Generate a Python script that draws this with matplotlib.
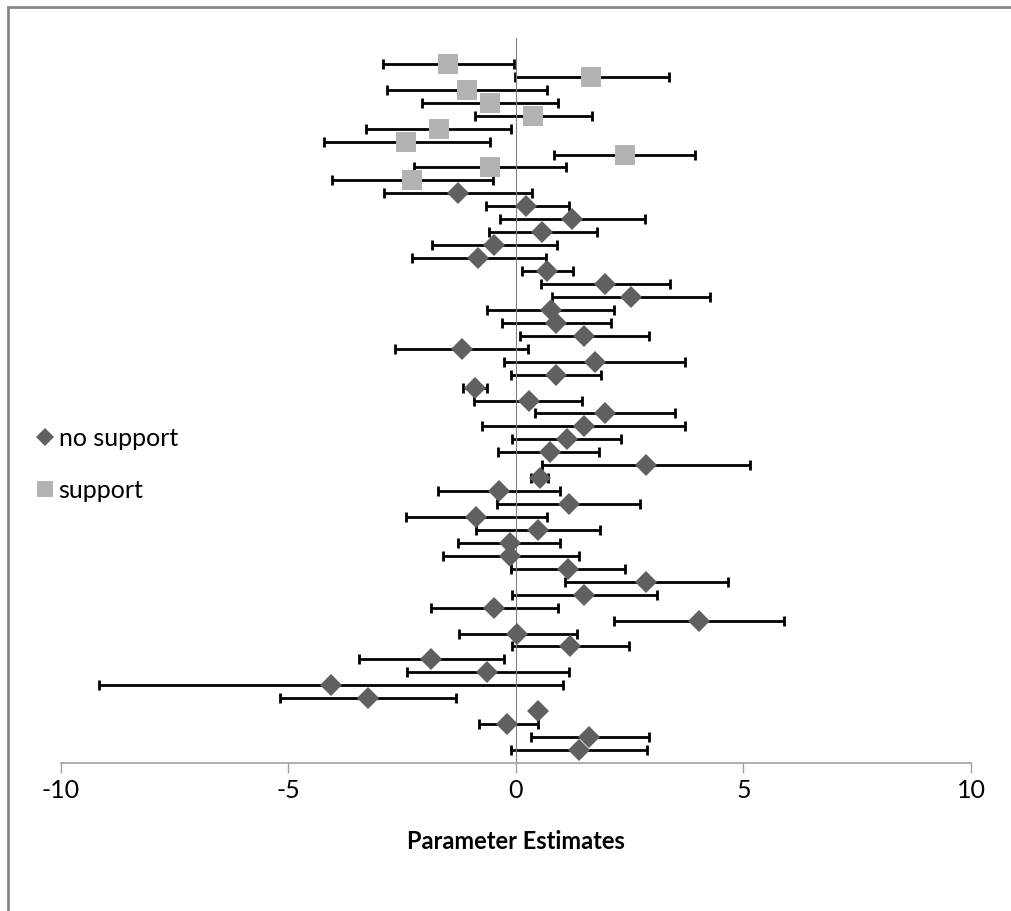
import numpy as np
import matplotlib.pyplot as plt
from matplotlib.lines import Line2D
from matplotlib.patches import Rectangle

plt.rcParams['font.family'] = ['Lato', 'DejaVu Sans']
plt.rcParams['axes.unicode_minus'] = False

# rows listed top to bottom
support_est = [-1.49, 1.65, -1.08, -0.57, 0.38, -1.70, -2.41, 2.39, -0.57, -2.28]
support_lo = [-2.92, -0.02, -2.83, -2.06, -0.91, -3.30, -4.22, 0.84, -2.24, -4.04]
support_hi = [-0.04, 3.36, 0.69, 0.93, 1.68, -0.11, -0.58, 3.94, 1.10, -0.51]

nosupport_est = [-1.27, 0.22, 1.24, 0.57, -0.48, -0.83, 0.68, 1.96, 2.53, 0.77,
                 0.87, 1.50, -1.19, 1.74, 0.87, -0.91, 0.28, 1.96, 1.50, 1.11,
                 0.74, 2.85, 0.52, -0.38, 1.16, -0.88, 0.48, -0.14, -0.13, 1.14,
                 2.85, 1.49, -0.48, 4.03, 0.02, 1.19, -1.87, -0.63, -4.07, -3.26,
                 0.48, -0.19, 1.61, 1.39]
nosupport_lo = [-2.90, -0.66, -0.35, -0.60, -1.85, -2.28, 0.14, 0.56, 0.79, -0.63,
                -0.31, 0.08, -2.67, -0.27, -0.11, -1.17, -0.93, 0.41, -0.74, -0.09,
                -0.39, 0.57, 0.33, -1.71, -0.41, -2.42, -0.88, -1.28, -1.60, -0.11,
                1.08, -0.08, -1.87, 2.15, -1.26, -0.08, -3.45, -2.40, -9.17, -5.18,
                0.48, -0.82, 0.33, -0.10]
nosupport_hi = [0.35, 1.16, 2.83, 1.78, 0.91, 0.66, 1.25, 3.39, 4.26, 2.15,
                2.08, 2.92, 0.27, 3.72, 1.87, -0.64, 1.45, 3.49, 3.72, 2.30,
                1.83, 5.14, 0.71, 0.97, 2.73, 0.69, 1.84, 0.97, 1.38, 2.40,
                4.66, 3.09, 0.93, 5.90, 1.35, 2.49, -0.27, 1.16, 1.03, -1.32,
                0.48, 0.48, 2.93, 2.89]

n_rows = len(support_est) + len(nosupport_est)
y_all = np.arange(n_rows, 0, -1)
y_sup = y_all[:len(support_est)]
y_nos = y_all[len(support_est):]

fig = plt.figure(figsize=(10.12, 9.11), dpi=100)
ax = fig.add_axes([61 / 1012, 148 / 911, 910 / 1012, 725 / 911])

def draw(est, lo, hi, y, marker, ms, color):
    est = np.array(est)
    err = [est - np.array(lo), np.array(hi) - est]
    ax.errorbar(est, y, xerr=err, fmt='none', ecolor='black', elinewidth=2.0,
                capsize=3.8, capthick=2.0, zorder=2)
    ax.plot(est, y, linestyle='none', marker=marker, markersize=ms,
            color=color, markeredgewidth=0, zorder=3)

draw(support_est, support_lo, support_hi, y_sup, 's', 15, '#b3b3b3')
draw(nosupport_est, nosupport_lo, nosupport_hi, y_nos, 'D', 11.5, '#606060')

ax.set_xlim(-10, 10)
ax.set_ylim(0, 56)
ax.set_xticks([-10, -5, 0, 5, 10])
ax.set_yticks([])
ax.spines['top'].set_visible(False)
ax.spines['right'].set_visible(False)
ax.spines['left'].set_position(('data', 0))
ax.spines['left'].set_color('#808080')
ax.spines['left'].set_linewidth(0.8)
ax.spines['bottom'].set_color('#a0a0a0')
ax.spines['bottom'].set_linewidth(1.2)
ax.tick_params(axis='x', direction='out', length=7.5, width=1.0, color='#a0a0a0',
               labelsize=18, labelcolor='black', pad=4)
ax.set_xlabel('Parameter Estimates', fontsize=17, fontweight='bold', labelpad=20)

handles = [Line2D([], [], linestyle='none', marker='D', markersize=9.5, color='#606060',
                  markeredgewidth=0),
           Line2D([], [], linestyle='none', marker='s', markersize=12, color='#b3b3b3',
                  markeredgewidth=0)]
fig.legend(handles, ['no support', 'support'], loc='center left',
           bbox_to_anchor=(0.022, 0.49), frameon=False, fontsize=18,
           handlelength=0.8, handletextpad=0.15, labelspacing=1.15, borderpad=0)

fig.patches.append(Rectangle((8 / 1012, -0.1), 1.2, (911 - 7) / 911 + 0.1,
                             transform=fig.transFigure, fill=False,
                             edgecolor='#888888', linewidth=2))

fig.savefig('out.png', dpi=100)
